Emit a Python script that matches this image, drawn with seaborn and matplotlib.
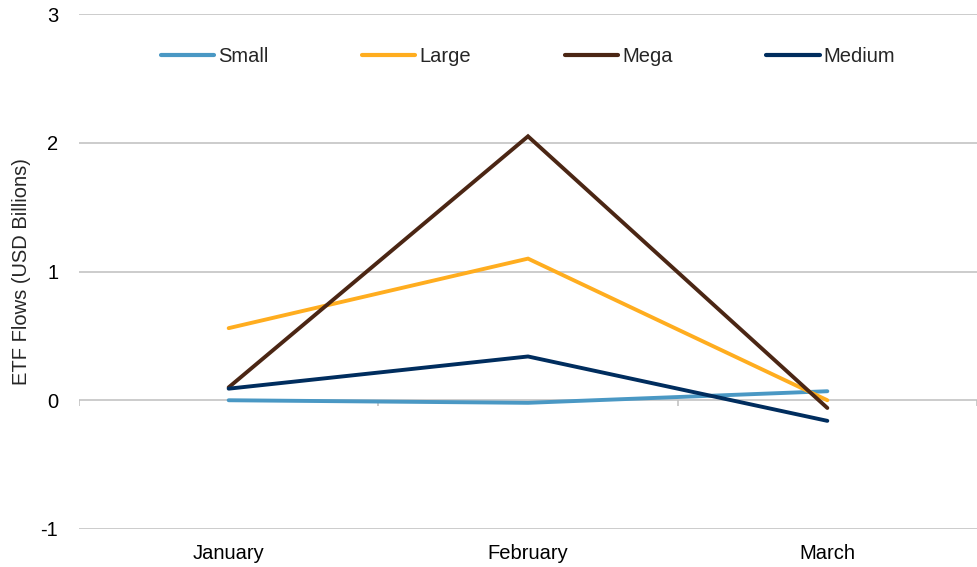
import matplotlib
matplotlib.use("Agg")
import matplotlib.pyplot as plt
import seaborn as sns
import pandas as pd

months = ["January", "February", "March"]
series_names = ["Small", "Large", "Mega", "Medium"]
small = [0.00, -0.02, 0.07]
large = [0.56, 1.10, 0.00]
mega = [0.10, 2.05, -0.06]
medium = [0.09, 0.34, -0.16]
y_ticks = [-1, 0, 1, 2, 3]
colors = ["#4A98C4", "#FFAD1F", "#4B2614", "#002D5E"]

rows = []
for name, vals in zip(series_names, [small, large, mega, medium]):
    for m, v in zip(months, vals):
        rows.append({"Month": m, "Flow": v, "Size": name})
df = pd.DataFrame(rows)

sns.set_style("white")
plt.rcParams["font.family"] = ["Liberation Sans", "DejaVu Sans"]
FS = 14.5

fig = plt.figure(figsize=(9.77, 5.67), dpi=100)
ax = fig.add_axes([79 / 977, 1 - 529 / 567, 898 / 977, 515 / 567])

# gridlines and the zero baseline with category-boundary ticks
for t in y_ticks:
    ax.axhline(t, color="#BFBFBF", lw=1.1, zorder=0)
ax.vlines([-0.5, 0.5, 1.5, 2.5], -0.045, 0, color="#BFBFBF", lw=1.1, zorder=0)

sns.lineplot(data=df, x="Month", y="Flow", hue="Size", hue_order=series_names,
             palette=colors, linewidth=2.8, ax=ax, sort=False,
             solid_capstyle="round", solid_joinstyle="miter")

ax.set_xlim(-0.5, 2.5)
ax.set_ylim(-1, 3)
ax.set_yticks(y_ticks)
ax.set_yticklabels([str(t) for t in y_ticks])
for s in ax.spines.values():
    s.set_visible(False)
ax.tick_params(axis="both", length=0, labelsize=FS, colors="black")
ax.tick_params(axis="y", pad=15)
ax.tick_params(axis="x", pad=11)
ax.set_xlabel("")
ax.set_ylabel("ETF Flows (USD Billions)", fontsize=FS, labelpad=7)
ax.grid(False)

leg = ax.legend(loc="center", bbox_to_anchor=(0.5, 0.918), ncol=4, frameon=False,
                fontsize=FS, handlelength=2.65, handletextpad=0.2, columnspacing=4.65)
for h in leg.get_lines():
    h.set_linewidth(3.0)
    h.set_solid_capstyle("round")

fig.savefig("out.png", dpi=100)
